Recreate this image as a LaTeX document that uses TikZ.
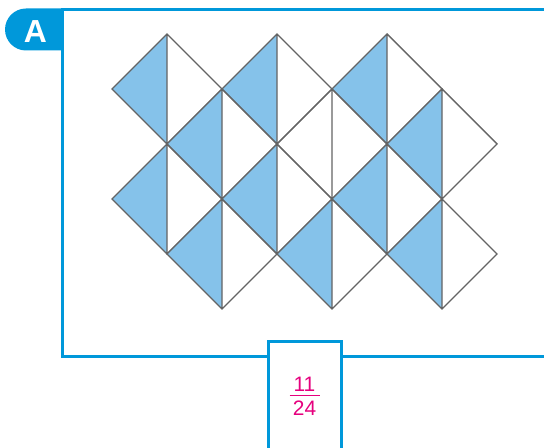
\documentclass[tikz,border=0pt]{standalone}
\usepackage{fontspec}
\setmainfont{Liberation Sans}

\begin{document}
\begin{tikzpicture}[x=1bp,y=-1bp]
		% --- Colores y estilos ---
		\definecolor{azul}{RGB}{0,152,218}
		\definecolor{celeste}{RGB}{133,194,234}
		\definecolor{rosa}{RGB}{230,0,126}
		\definecolor{gris}{RGB}{100,100,100}
		\tikzset{marco/.style={draw=azul, line width=3bp},
			rombo/.style={draw=gris, line width=1.4bp, line join=miter},
			cifra/.style={text=rosa, anchor=base, inner sep=0pt, font=\fontsize{21}{25}\selectfont}}
		\useasboundingbox (0,0) rectangle (544,448);

		% --- Marco y pestaña ---
		\draw[marco] (548,10) -- (62,10) -- (62,356) -- (548,356);
		\fill[azul] (63,8.5) -- (26,8.5) arc[start angle=270, end angle=90, radius=21] -- (63,50.5) -- cycle;
		\node[text=white, font=\bfseries\fontsize{32}{32}\selectfont] (letra) at (35.5,31.5) {A};

		% --- Rombos: centro (cx,cy), semidiagonal 55; s=1 mitad izquierda coloreada ---
		\foreach \cx/\cy/\s in {%
			167/89/1, 277/89/1, 387/89/1,
			222/144/1, 332/144/0, 442/144/1,
			167/199/1, 277/199/1, 387/199/1,
			222/254/1, 332/254/1, 442/254/1}
		{
			\ifnum\s=1
				\fill[celeste] ({\cx},{\cy-55}) -- ({\cx-55},{\cy}) -- ({\cx},{\cy+55}) -- cycle;
			\fi
			\draw[rombo] ({\cx},{\cy-55}) -- ({\cx+55},{\cy}) -- ({\cx},{\cy+55}) -- ({\cx-55},{\cy}) -- cycle
				({\cx},{\cy-55}) -- ({\cx},{\cy+55});
		}

		% --- Recuadro de respuesta ---
		\filldraw[marco, fill=white] (268,452) -- (268,341) -- (341,341) -- (341,452);
		\node[cifra] (numerador) at (304.5,391.5) {11};
		\node[cifra] (denominador) at (304.5,415) {24};
		\draw[rosa, line width=1.3bp] (289.5,395.5) -- (319.5,395.5);
	\end{tikzpicture}
\end{document}
